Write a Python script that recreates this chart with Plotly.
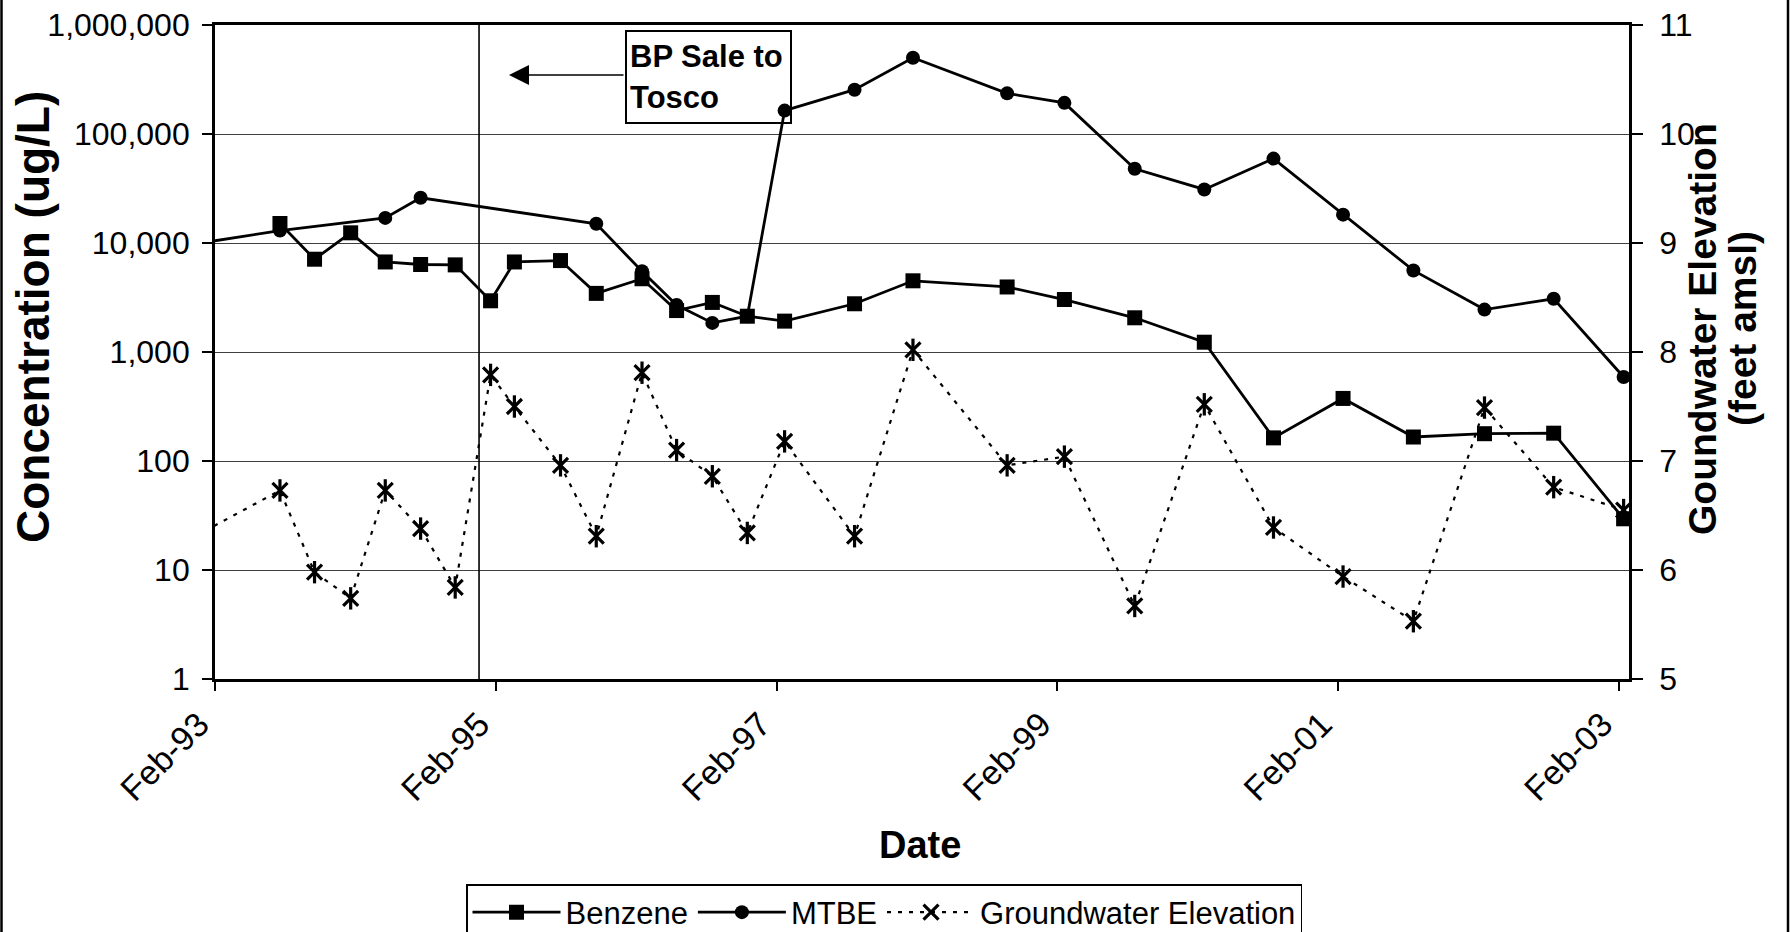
import plotly.graph_objects as go

# ---------------- data ----------------
dates = ["1992-11-15", "1993-07-20", "1993-10-18", "1994-01-20", "1994-04-20",
         "1994-07-21", "1994-10-19", "1995-01-19", "1995-03-22", "1995-07-20",
         "1995-10-21", "1996-02-17", "1996-05-17", "1996-08-18", "1996-11-17",
         "1997-02-22", "1997-08-23", "1998-01-22", "1998-09-24", "1999-02-20",
         "1999-08-22", "2000-02-19", "2000-08-17", "2001-02-14", "2001-08-16",
         "2002-02-17", "2002-08-16", "2003-02-14"]

benzene = [None, 15100, 7100, 12400, 6700, 6350, 6300, 2950, 6700, 6900,
           3450, 4700, 2400, 2850, 2130, 1920, 2770, 4500, 3950, 3030,
           2060, 1230, 163, 375, 166, 178, 180, 29.5]

mtbe = [9500, 13000, None, None, 17000, 26000, None, None, None, None,
        15000, 5500, 2700, 1850, 2130, 164000, 255000, 500000, 236000, 193000,
        48000, 31000, 59500, 18200, 5600, 2450, 3080, 590]

groundwater = [6.26, 6.73, 5.98, 5.74, 6.73, 6.38, 5.84, 7.79, 7.50, 6.96,
               6.31, 7.81, 7.10, 6.86, 6.34, 7.18, 6.31, 8.02, 6.96, 7.04,
               5.67, 7.52, 6.39, 5.94, 5.53, 7.49, 6.76, 6.55]

conc_tickvals = [1, 10, 100, 1000, 10000, 100000, 1000000]
conc_ticktext = ["1", "10", "100", "1,000", "10,000", "100,000", "1,000,000"]
elev_tickvals = [5, 6, 7, 8, 9, 10, 11]

x_range = ["1993-02-01", "2003-02-28"]
sale_date = "1994-12-20"
sale_label = "BP Sale to<br>Tosco"

# ---------------- figure ----------------
FONT = "Liberation Sans, Arial, sans-serif"
fig = go.Figure()

fig.add_trace(go.Scatter(
    x=dates, y=benzene, name="Benzene", mode="lines+markers",
    connectgaps=True,
    line=dict(color="black", width=2.8),
    marker=dict(symbol="square", size=15, color="black"),
))
fig.add_trace(go.Scatter(
    x=dates, y=mtbe, name="MTBE", mode="lines+markers",
    connectgaps=True,
    line=dict(color="black", width=2.8),
    marker=dict(symbol="circle", size=14, color="black"),
))
fig.add_trace(go.Scatter(
    x=dates, y=groundwater, name="Groundwater Elevation", mode="lines+markers",
    yaxis="y2",
    line=dict(color="black", width=2.2, dash="4px,7px"),
    marker=dict(symbol="x-thin-open", size=15, color="black",
                line=dict(color="black", width=3.2)),
))
fig.add_trace(go.Scatter(
    x=dates, y=groundwater, mode="markers", yaxis="y2", showlegend=False,
    hoverinfo="skip",
    marker=dict(symbol="line-ns-open", size=16, color="black",
                line=dict(color="black", width=3.2)),
))

L, R, T, B = 215, 161, 25, 253
W, H = 1790, 932
pw, ph = W - L - R, H - T - B


def px_x(px):
    return (px - L) / pw


def px_y(py):
    return (H - B - py) / ph


fig.update_layout(
    width=W, height=H,
    margin=dict(l=L, r=R, t=T, b=B, pad=0, autoexpand=False),
    paper_bgcolor="white", plot_bgcolor="white",
    font=dict(family=FONT, color="black", size=32),
    showlegend=True,
    legend=dict(
        orientation="h", x=px_x(466), xanchor="left", y=px_y(884), yanchor="top",
        bordercolor="black", borderwidth=1.5, bgcolor="white",
        font=dict(family=FONT, size=31, color="black"),
        itemwidth=88, tracegroupgap=0,
    ),
    xaxis=dict(
        type="date", range=x_range, tick0="1993-02-01", dtick="M24",
        tickformat="%b-%y", tickangle=-45,
        ticks="outside", ticklen=9, tickwidth=1.5, tickcolor="black",
        showline=True, linewidth=2.8, linecolor="black", mirror=True,
        showgrid=False, zeroline=False, automargin=False,
        tickfont=dict(family=FONT, size=34, color="black"),
        ticklabelstandoff=0, ticklabelshift=-16,
    ),
    yaxis=dict(
        type="log", range=[0, 6],
        tickvals=conc_tickvals, ticktext=conc_ticktext,
        ticks="outside", ticklen=10, tickwidth=1.5, tickcolor="black",
        showline=True, linewidth=2.8, linecolor="black",
        showgrid=True, gridcolor="#404040", gridwidth=1,
        zeroline=False, automargin=False,
        tickfont=dict(family=FONT, size=32, color="black"),
        ticklabelstandoff=6,
    ),
    yaxis2=dict(
        overlaying="y", side="right", range=[5, 11],
        tickvals=elev_tickvals,
        ticks="outside", ticklen=11, tickwidth=1.5, tickcolor="black",
        showline=True, linewidth=2.8, linecolor="black",
        showgrid=False, zeroline=False, automargin=False,
        tickfont=dict(family=FONT, size=32, color="black"),
        ticklabelstandoff=10,
    ),
)

# vertical event line
fig.add_shape(type="line", xref="x", yref="paper", x0=sale_date, x1=sale_date,
              y0=0, y1=1, line=dict(color="black", width=1.6))

# chart-area frame (left and right edges visible in the reference)
for fx in (px_x(1.5), px_x(1788)):
    fig.add_shape(type="line", xref="paper", yref="paper", x0=fx, x1=fx,
                  y0=px_y(H + 5), y1=px_y(-5), line=dict(color="black", width=2.5))

# text box
fig.add_annotation(
    xref="paper", yref="paper", x=px_x(625), y=px_y(30),
    xanchor="left", yanchor="top", text=sale_label, showarrow=False,
    align="left", valign="middle", width=157, height=84,
    bordercolor="black", borderwidth=2, borderpad=3, bgcolor="rgba(0,0,0,0)",
    font=dict(family=FONT, size=31, color="black", weight="bold"),
)
# arrow pointing left
fig.add_annotation(
    xref="paper", yref="paper", x=px_x(509), y=px_y(75), ax=116, ay=0,
    text="", showarrow=True, arrowhead=2, arrowsize=2.5, arrowwidth=1.6,
    arrowcolor="black", standoff=0, startstandoff=0,
)

# axis titles
fig.add_annotation(
    xref="paper", yref="paper", x=px_x(33), y=px_y(317), textangle=-90,
    text="Concentration (ug/L)", showarrow=False,
    xanchor="center", yanchor="middle",
    font=dict(family=FONT, size=46, color="black", weight="bold"),
)
fig.add_annotation(
    xref="paper", yref="paper", x=px_x(1703), y=px_y(329), textangle=-90,
    text="Goundwater Elevation", showarrow=False,
    xanchor="center", yanchor="middle",
    font=dict(family=FONT, size=39, color="black", weight="bold"),
)
fig.add_annotation(
    xref="paper", yref="paper", x=px_x(1743), y=px_y(329), textangle=-90,
    text="(feet amsl)", showarrow=False,
    xanchor="center", yanchor="middle",
    font=dict(family=FONT, size=39, color="black", weight="bold"),
)
fig.add_annotation(
    xref="paper", yref="paper", x=px_x(920), y=px_y(845),
    text="Date", showarrow=False, xanchor="center", yanchor="middle",
    font=dict(family=FONT, size=38, color="black", weight="bold"),
)

fig.write_html(
    "out.html",
    config={"displayModeBar": False},
    post_script="document.body.style.margin='0px';document.body.style.overflow='hidden';",
)
